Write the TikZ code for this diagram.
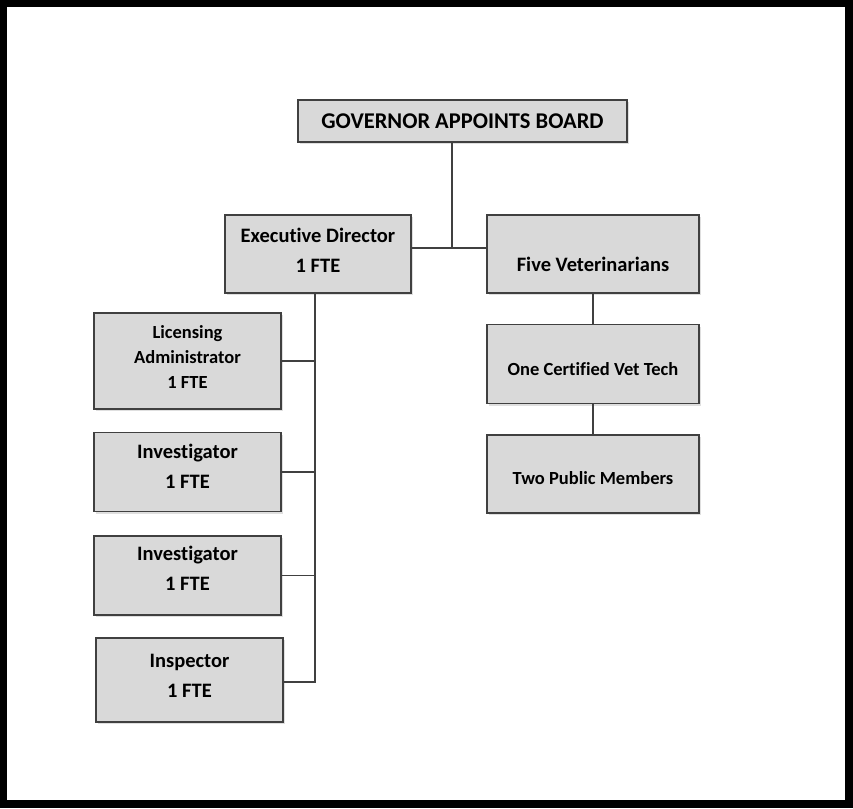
\documentclass[tikz,border=0pt]{standalone}
\usepackage{fontspec}
\setmainfont{Carlito}[Ligatures=NoCommon]
\usetikzlibrary{positioning,shadows}
\definecolor{boxgray}{HTML}{D9D9D9}
\definecolor{edgegray}{HTML}{404040}

\begin{document}
\begin{tikzpicture}[
  x=1pt, y=-1pt,
  box/.style={draw=edgegray,line width=1.6pt,fill=boxgray,align=center,inner sep=0pt,
    font=\bfseries\fontsize{20.5}{30}\selectfont,
    drop shadow={opacity=0.25,shadow xshift=2pt,shadow yshift=-2pt}},
  smallbox/.style={box,font=\bfseries\fontsize{18.5}{25}\selectfont},
  link/.style={draw=edgegray,line width=1.4pt}
]
% frame
\fill[black] (0,0) rectangle (853,808);
\fill[white] (7,7) rectangle (845,800);
\useasboundingbox (0,0) rectangle (853,808);

\node[box,font=\bfseries\fontsize{22.5}{26}\selectfont,minimum width=329pt,minimum height=42pt] (gov) at (462.5,121) {GOVERNOR APPOINTS BOARD};
\node[box,text depth=8pt,minimum width=186pt,minimum height=78pt] (exec) at (318,254) {Executive Director\\1 FTE};
\node[box,text height=35pt,minimum width=212pt,minimum height=78pt] (vets) at (593,254) {Five Veterinarians};
\node[smallbox,text height=23pt,minimum width=212pt,minimum height=79pt,below=30pt of vets] (tech) {One Certified Vet Tech};
\node[smallbox,text height=21pt,minimum width=212pt,minimum height=78pt,below=30pt of tech] (pub) {Two Public Members};

\node[smallbox,text depth=8pt,minimum width=187pt,minimum height=96pt] (lic) at (187.5,361) {Licensing\\Administrator\\1 FTE};
\node[box,text depth=12pt,minimum width=187pt,minimum height=79pt,below=22pt of lic] (inv1) {Investigator\\1 FTE};
\node[box,text depth=15pt,minimum width=187pt,minimum height=79pt,below=23pt of inv1] (inv2) {Investigator\\1 FTE};
\node[box,text depth=8pt,minimum width=187pt,minimum height=84pt] (insp) at (189.5,680) {Inspector\\1 FTE};

% connectors
\coordinate (top) at (452,248);
\coordinate (spine) at (315,682);
\draw[link] (gov.south -| top) -- (top);
\draw[link] (exec.east |- top) -- (vets.west |- top);
\draw[link] (vets) -- (tech);
\draw[link] (tech) -- (pub);
\draw[link] (exec.south -| spine) -- (spine) -- (insp.east |- spine);
\draw[link] (lic.east) -- (lic.east -| spine);
\draw[link] (inv1.east) -- (inv1.east -| spine);
\draw[link] (inv2.east) -- (inv2.east -| spine);
\end{tikzpicture}
\end{document}
